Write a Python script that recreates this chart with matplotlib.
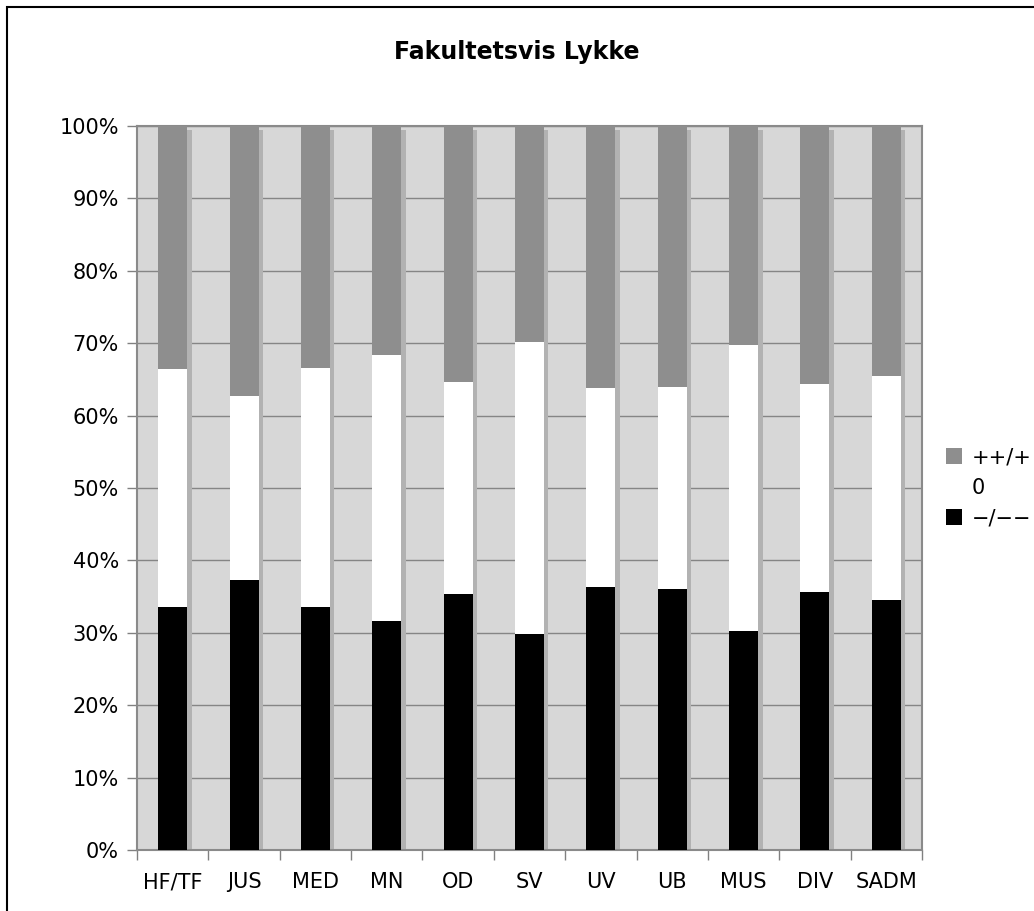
import matplotlib
matplotlib.use("Agg")
import matplotlib.pyplot as plt
from matplotlib.patches import Rectangle, Patch
import numpy as np

plt.rcParams['font.family'] = ['DejaVu Sans']

categories = ["HF/TF", "JUS", "MED", "MN", "OD", "SV", "UV", "UB", "MUS", "DIV", "SADM"]
neg = [33.6, 37.3, 33.5, 31.6, 35.3, 29.8, 36.3, 36.1, 30.2, 35.7, 34.5]
neutral_top = [66.4, 62.7, 66.6, 68.4, 64.7, 70.2, 63.8, 63.9, 69.8, 64.3, 65.5]
neutral = [t - n for t, n in zip(neutral_top, neg)]
pos = [100 - t for t in neutral_top]
series_labels = ["++/+", "0", "\u2212/\u2212\u2212"]
yticks = list(range(0, 101, 10))

W, H = 1034, 911
fig = plt.figure(figsize=(W / 100, H / 100), dpi=100)
ax = fig.add_axes([137 / W, 1 - 850 / H, (922 - 137) / W, (850 - 126) / H])

bg = "#d7d7d7"
ax.set_facecolor(bg)
x = np.arange(len(categories))
bw = 0.406

# shadow
ax.bar(x + 0.062, [100 - 0.55] * len(x), bw, color="#b2b2b2", zorder=2, linewidth=0)
ax.bar(x, neg, bw, color="#000000", zorder=3, linewidth=0)
ax.bar(x, neutral, bw, bottom=neg, color="#ffffff", zorder=3, linewidth=0)
ax.bar(x, pos, bw, bottom=neutral_top, color="#8e8e8e", zorder=3, linewidth=0)

ax.set_xlim(-0.5, len(categories) - 0.5)
ax.set_ylim(0, 100)
ax.set_yticks(yticks)
ax.set_yticklabels([f"{v}%" for v in yticks], fontsize=15)
ax.yaxis.grid(True, color="#858585", linewidth=1.0, zorder=1)
ax.set_axisbelow(True)

ax.set_xticks(np.arange(-0.5, len(categories), 1.0))
ax.set_xticklabels([])
ax.set_xticks(x, minor=True)
ax.set_xticklabels(categories, minor=True, fontsize=15)
ax.tick_params(axis='x', which='minor', length=0, pad=16)
ax.tick_params(axis='x', which='major', length=7, color="#808080", width=1)
ax.tick_params(axis='y', length=7, color="#808080", width=1, pad=6)

for s in ax.spines.values():
    s.set_color("#8a8a8a")
    s.set_linewidth(1.5)

fig.text(517 / W, 1 - 52 / H, "Fakultetsvis Lykke", ha="center", va="center",
         fontsize=17, fontweight="bold")

handles = [Patch(facecolor="#8e8e8e", edgecolor="none"),
           Patch(facecolor="#ffffff", edgecolor="none"),
           Patch(facecolor="#000000", edgecolor="none")]
fig.legend(handles, series_labels, loc="center left",
           bbox_to_anchor=(946 / W, 1 - 488 / H), frameon=False, fontsize=15,
           handlelength=0.78, handleheight=0.78, handletextpad=0.45,
           labelspacing=0.5, borderaxespad=0, borderpad=0)

# outer frame (partially cropped on right/bottom)
fig.patches.append(Rectangle((7 / W, -1), 2, 1 - 7 / H + 1, transform=fig.transFigure,
                             fill=False, edgecolor="black", linewidth=1.5))

fig.savefig("out.png", dpi=100)
